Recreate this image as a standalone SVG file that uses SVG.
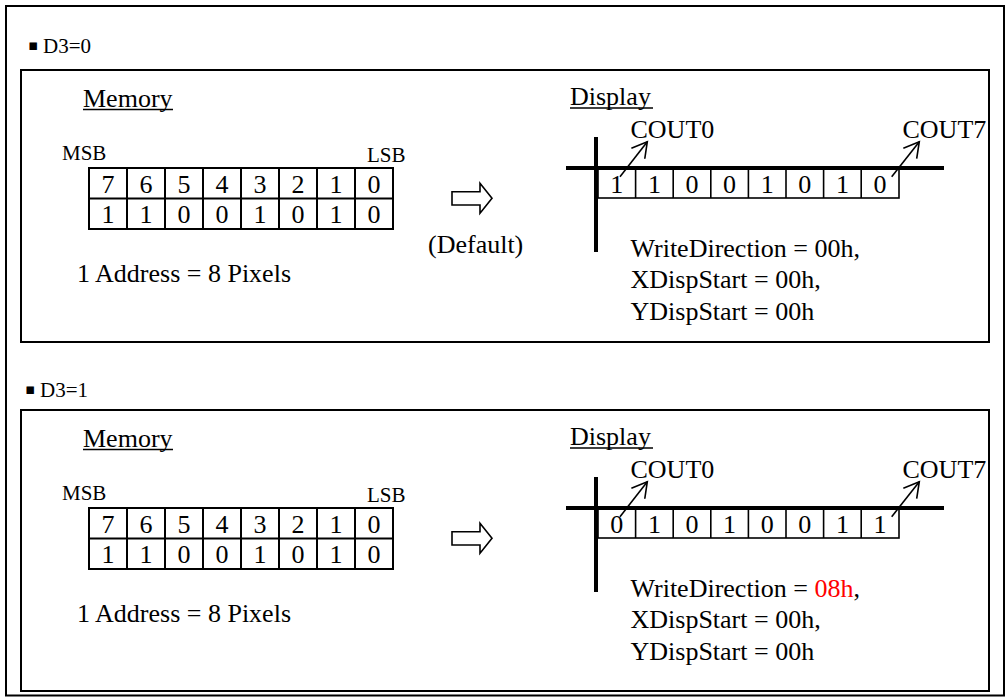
<svg xmlns="http://www.w3.org/2000/svg" width="1008" height="697" viewBox="0 0 1008 697">
<style>
text{font-family:"Liberation Serif","Times New Roman",serif;fill:#000}
.m{font-size:26px}
.s{font-size:21px}
.c{text-anchor:middle}
.box{fill:none;stroke:#000;stroke-width:2}
.grid{fill:none;stroke:#000;stroke-width:2}
.cell{fill:none;stroke:#000;stroke-width:1.6}
.thick{stroke:#000;stroke-width:4;fill:none}
.ul{stroke:#000;stroke-width:1.3}
.ptr{stroke:#000;stroke-width:1.6;fill:none;marker-end:url(#ah)}
.blk{fill:#fff;stroke:#000;stroke-width:1.6}
.red{fill:#ff0000}
.bul{font-family:"DejaVu Sans",sans-serif;font-size:15px}
</style>
<defs>
<marker id="ah" markerUnits="userSpaceOnUse" markerWidth="24" markerHeight="24" viewBox="-18 -12 24 24" refX="0" refY="0" orient="auto" overflow="visible">
<path d="M-15,-8.5 L0,0 L-15,8.5" fill="none" stroke="#000" stroke-width="1.6"/>
</marker>
</defs>
<rect width="1008" height="697" fill="#fff"/>
<rect id="outer" class="box" x="6" y="6" width="998" height="689.5"/>

<!-- Section D3=0 -->
<g id="label-d3-0">
<text class="bul" x="28" y="49.5">▪</text>
<text class="s" x="43" y="53">D3=0</text>
</g>
<rect id="panel-d3-0" class="box" x="21" y="70" width="968" height="272"/>

<g id="memory-0">
<text class="m" x="83" y="107">Memory</text>
<line class="ul" x1="83" y1="109.5" x2="173" y2="109.5"/>
<text class="s" x="62" y="160">MSB</text>
<text class="s" x="367" y="162">LSB</text>
<rect class="grid" x="89" y="168" width="304" height="61"/>
<path class="grid" d="M127,168V229M165,168V229M203,168V229M241,168V229M279,168V229M317,168V229M355,168V229M89,198.5H393"/>
<g class="m c">
<text x="108" y="192.5">7</text><text x="146" y="192.5">6</text><text x="184" y="192.5">5</text><text x="222" y="192.5">4</text><text x="260" y="192.5">3</text><text x="298" y="192.5">2</text><text x="336" y="192.5">1</text><text x="374" y="192.5">0</text>
<text x="108" y="222.5">1</text><text x="146" y="222.5">1</text><text x="184" y="222.5">0</text><text x="222" y="222.5">0</text><text x="260" y="222.5">1</text><text x="298" y="222.5">0</text><text x="336" y="222.5">1</text><text x="374" y="222.5">0</text>
</g>
<text class="m" x="77" y="282">1 Address = 8 Pixels</text>
</g>

<g id="arrow-0">
<polygon class="blk" points="452,191.7 480,191.7 480,183.3 492,198.3 480,213.3 480,205 452,205"/>
<text class="m" x="428" y="252.5">(Default)</text>
</g>

<g id="display-0">
<text class="m" x="570" y="105">Display</text>
<line class="ul" x1="570" y1="108" x2="653" y2="108"/>
<text class="m" x="630.5" y="138">COUT0</text>
<text class="m" x="902.5" y="138">COUT7</text>
<rect class="cell" x="598" y="168" width="301" height="30"/>
<path class="cell" d="M635.6,168V198M673.2,168V198M710.8,168V198M748.4,168V198M786,168V198M823.6,168V198M861.2,168V198"/>
<path class="thick" d="M596,137V252M566,168H944"/>
<g class="m c">
<text x="616.8" y="193">1</text><text x="654.4" y="193">1</text><text x="692" y="193">0</text><text x="729.6" y="193">0</text><text x="767.2" y="193">1</text><text x="804.8" y="193">0</text><text x="842.4" y="193">1</text><text x="880" y="193">0</text>
</g>
<text class="m" x="630.5" y="256.5">WriteDirection = 00h,</text>
<text class="m" x="630.5" y="288">XDispStart = 00h,</text>
<text class="m" x="630.5" y="319.5">YDispStart = 00h</text>
</g>

<!-- Section D3=1 -->
<g id="label-d3-1">
<text class="bul" x="25" y="393.5">▪</text>
<text class="s" x="40" y="397">D3=1</text>
</g>
<rect id="panel-d3-1" class="box" x="21" y="410" width="968" height="281"/>

<g id="memory-1" transform="translate(0,340)">
<text class="m" x="83" y="107">Memory</text>
<line class="ul" x1="83" y1="109.5" x2="173" y2="109.5"/>
<text class="s" x="62" y="160">MSB</text>
<text class="s" x="367" y="162">LSB</text>
<rect class="grid" x="89" y="168" width="304" height="61"/>
<path class="grid" d="M127,168V229M165,168V229M203,168V229M241,168V229M279,168V229M317,168V229M355,168V229M89,198.5H393"/>
<g class="m c">
<text x="108" y="192.5">7</text><text x="146" y="192.5">6</text><text x="184" y="192.5">5</text><text x="222" y="192.5">4</text><text x="260" y="192.5">3</text><text x="298" y="192.5">2</text><text x="336" y="192.5">1</text><text x="374" y="192.5">0</text>
<text x="108" y="222.5">1</text><text x="146" y="222.5">1</text><text x="184" y="222.5">0</text><text x="222" y="222.5">0</text><text x="260" y="222.5">1</text><text x="298" y="222.5">0</text><text x="336" y="222.5">1</text><text x="374" y="222.5">0</text>
</g>
<text class="m" x="77" y="282">1 Address = 8 Pixels</text>
</g>

<g id="arrow-1" transform="translate(0,340)">
<polygon class="blk" points="452,191.7 480,191.7 480,183.3 492,198.3 480,213.3 480,205 452,205"/>
</g>

<g id="display-1" transform="translate(0,340)">
<text class="m" x="570" y="105">Display</text>
<line class="ul" x1="570" y1="108" x2="653" y2="108"/>
<text class="m" x="630.5" y="138">COUT0</text>
<text class="m" x="902.5" y="138">COUT7</text>
<rect class="cell" x="598" y="168" width="301" height="30"/>
<path class="cell" d="M635.6,168V198M673.2,168V198M710.8,168V198M748.4,168V198M786,168V198M823.6,168V198M861.2,168V198"/>
<path class="thick" d="M596,137V252M566,168H944"/>
<g class="m c">
<text x="616.8" y="193">0</text><text x="654.4" y="193">1</text><text x="692" y="193">0</text><text x="729.6" y="193">1</text><text x="767.2" y="193">0</text><text x="804.8" y="193">0</text><text x="842.4" y="193">1</text><text x="880" y="193">1</text>
</g>
<text class="m" x="630.5" y="256.5">WriteDirection = <tspan class="red">08h</tspan>,</text>
<text class="m" x="630.5" y="288">XDispStart = 00h,</text>
<text class="m" x="630.5" y="319.5">YDispStart = 00h</text>
</g>

<g id="connectors">
<line class="ptr" x1="620" y1="176.7" x2="647.3" y2="141.7"/>
<line class="ptr" x1="891.7" y1="176.7" x2="919.3" y2="141.7"/>
<line class="ptr" x1="620" y1="516.7" x2="647.3" y2="481.7"/>
<line class="ptr" x1="891.7" y1="516.7" x2="919.3" y2="481.7"/>
</g>
</svg>
